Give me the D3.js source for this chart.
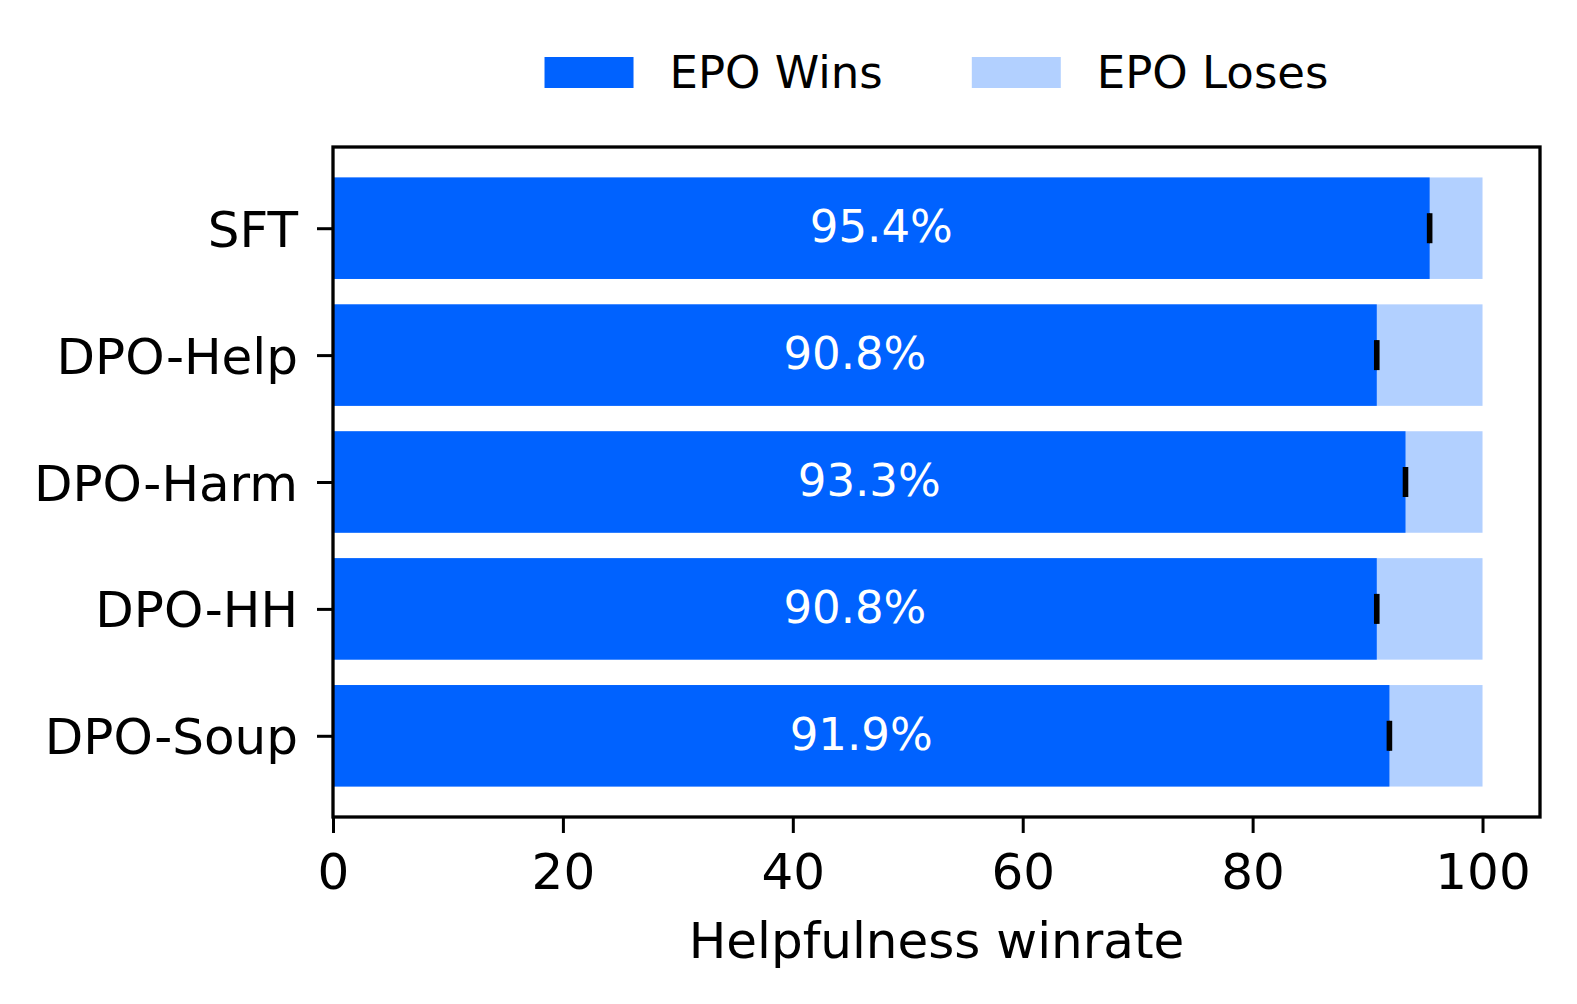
<!DOCTYPE html>
<html>
<head>
<meta charset="utf-8">
<script src="https://cdn.jsdelivr.net/npm/d3@7"></script>
<style>
  body { margin: 0; background: #fff; }
  text { font-family: "DejaVu Sans", sans-serif; }
</style>
</head>
<body>
<svg id="chart" width="1577" height="1004"></svg>
<script>
// data
const models = ['SFT', 'DPO-Help', 'DPO-Harm', 'DPO-HH', 'DPO-Soup']
const winrates = [95.4, 90.8, 93.3, 90.8, 91.9]
const errors = [0.1, 0.1, 0.1, 0.1, 0.1]
const xTicks = [0, 20, 40, 60, 80, 100]
const seriesNames = ['EPO Wins', 'EPO Loses']

const blue = '#0062ff'

const width = 1577, height = 1004
const margin = { top: 147, right: 37, bottom: 187, left: 333 }
const innerW = width - margin.left - margin.right
const innerH = height - margin.top - margin.bottom

const svg = d3.select('#chart')
const g = svg.append('g').attr('transform', `translate(${margin.left},${margin.top})`)

const x = d3.scaleLinear().domain([0, 105]).range([0, innerW])

// matplotlib-like barh: positions 0..4, height 0.8, 5% margins, inverted
const y = d3.scaleLinear().domain([-0.64, 4.64]).range([0, innerH])
const barH = y(0.8) - y(0)

/**
 * Loses bars (full length, blue at alpha .3), then the wins bars on top
 */
g.selectAll('rect.lose')
    .data(models)
    .join('rect')
    .classed('lose', true)
    .attr('x', x(0))
    .attr('y', (d, i) => y(i) - barH / 2)
    .attr('width', x(100) - x(0))
    .attr('height', barH)
    .attr('fill', blue)
    .attr('fill-opacity', 0.3)

g.selectAll('rect.win')
    .data(winrates)
    .join('rect')
    .classed('win', true)
    .attr('x', x(0))
    .attr('y', (d, i) => y(i) - barH / 2)
    .attr('width', d => x(d) - x(0))
    .attr('height', barH)
    .attr('fill', blue)

/**
 * Error caps at the end of each win bar
 */
const caps = g.selectAll('g.err')
    .data(winrates)
    .join('g')
    .classed('err', true)

caps.selectAll('line')
    .data((d, i) => [[d - errors[i], i], [d + errors[i], i]])
    .join('line')
    .attr('x1', d => x(d[0]))
    .attr('x2', d => x(d[0]))
    .attr('y1', d => y(d[1]) - 15)
    .attr('y2', d => y(d[1]) + 15)
    .attr('stroke', '#000')
    .attr('stroke-width', 3.3)

caps.append('line')
    .attr('x1', (d, i) => x(d - errors[i]))
    .attr('x2', (d, i) => x(d + errors[i]))
    .attr('y1', (d, i) => y(i))
    .attr('y2', (d, i) => y(i))
    .attr('stroke', '#000')
    .attr('stroke-width', 3.3)

/**
 * Percent labels centred in the wins bar
 */
g.selectAll('text.val')
    .data(winrates)
    .join('text')
    .classed('val', true)
    .attr('x', d => x(d / 2))
    .attr('y', (d, i) => y(i) + 14)
    .attr('text-anchor', 'middle')
    .attr('fill', '#fff')
    .style('font-size', '45px')
    .text(d => d.toFixed(1) + '%')

// frame
g.append('rect')
    .attr('width', innerW)
    .attr('height', innerH)
    .attr('fill', 'none')
    .attr('stroke', '#000')
    .attr('stroke-width', 3.3)

/**
 * Axes
 */
const xAxis = g.append('g')
    .attr('transform', `translate(0,${innerH})`)
    .call(d3.axisBottom(x).tickValues(xTicks).tickSize(16).tickPadding(20).tickFormat(d3.format('d')))

const yAxis = g.append('g')
    .call(d3.axisLeft(y).tickValues(d3.range(models.length)).tickSize(16).tickPadding(19).tickFormat(i => models[i]))

for (const ax of [xAxis, yAxis]) {
    ax.select('.domain').remove()
    ax.selectAll('.tick line').attr('stroke', '#000').attr('stroke-width', 3)
    ax.selectAll('.tick text')
        .attr('fill', '#000')
        .style('font-size', '50px')
        .style('font-family', '"DejaVu Sans", sans-serif')
}
yAxis.selectAll('.tick text').attr('dy', '0.36em')
xAxis.selectAll('.tick text').attr('dy', '0.71em')

g.append('text')
    .attr('x', innerW / 2)
    .attr('y', innerH + 141)
    .attr('text-anchor', 'middle')
    .attr('fill', '#000')
    .style('font-size', '50px')
    .text('Helpfulness winrate')

/**
 * Legend, centred over the axes
 */
const legend = svg.append('g')
const items = legend.selectAll('g')
    .data(seriesNames)
    .join('g')

items.append('rect')
    .attr('width', 89)
    .attr('height', 31)
    .attr('y', 57)
    .attr('fill', blue)
    .attr('fill-opacity', (d, i) => i === 0 ? 1 : 0.3)

items.append('text')
    .attr('x', 125)
    .attr('y', 88)
    .attr('fill', '#000')
    .style('font-size', '45px')
    .text(d => d)

let offset = 0
items.each(function() {
    const item = d3.select(this)
    item.attr('transform', `translate(${offset},0)`)
    offset += 125 + item.select('text').node().getComputedTextLength() + 89
})
const legendW = offset - 89
legend.attr('transform', `translate(${margin.left + innerW / 2 - legendW / 2},0)`)
</script>
</body>
</html>
